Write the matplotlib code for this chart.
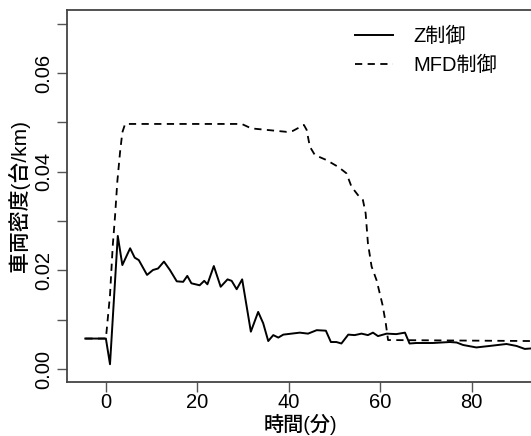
import matplotlib
matplotlib.use("Agg")
import matplotlib.pyplot as plt

plt.rcParams['font.family'] = ['Liberation Sans', 'Noto Sans CJK JP']

# Z制御 の車両密度
z_time = [-4.5, 0.0, 0.9, 2.6, 3.6, 5.3, 6.3, 7.2, 7.8, 9.0, 10.3, 11.4, 12.7,
          14.0, 15.5, 16.9, 17.8, 18.7, 20.5, 21.5, 22.2, 23.6, 25.1, 26.6,
          27.5, 28.6, 29.8, 31.7, 33.3, 34.4, 35.5, 36.6, 37.7, 38.8, 42.4,
          44.2, 46.1, 48.1, 49.2, 50.4, 51.5, 53.0, 54.4, 55.9, 57.3, 58.4,
          59.5, 61.4, 63.5, 65.4, 66.4, 67.9, 71.5, 75.2, 76.7, 78.1, 81.0,
          83.9, 87.6, 89.8, 91.6, 93.0]
z_density = [0.0062, 0.0062, 0.0010, 0.0270, 0.0211, 0.0245, 0.0226, 0.0221,
             0.0211, 0.0191, 0.0201, 0.0204, 0.0218, 0.0201, 0.0178, 0.0177,
             0.0189, 0.0174, 0.0170, 0.0179, 0.0172, 0.0209, 0.0167, 0.0182,
             0.0179, 0.0162, 0.0182, 0.0076, 0.0116, 0.0093, 0.0057, 0.0069,
             0.0064, 0.0070, 0.0074, 0.0072, 0.0079, 0.0078, 0.0055, 0.0055,
             0.0052, 0.0070, 0.0069, 0.0072, 0.0069, 0.0074, 0.0067, 0.0072,
             0.0071, 0.0074, 0.0052, 0.0053, 0.0053, 0.0055, 0.0054, 0.0049,
             0.0044, 0.0047, 0.0051, 0.0047, 0.0041, 0.0042]

# MFD制御 の車両密度
mfd_time = [-4.5, 0.0, 0.9, 1.5, 2.0, 2.5, 3.1, 3.6, 4.2, 29.7, 31.8, 39.5,
            40.9, 43.3, 43.9, 44.6, 45.7, 48.2, 50.8, 52.6, 53.7, 55.1, 56.2,
            56.8, 57.3, 58.1, 59.2, 60.5, 61.2, 61.7, 93.0]
mfd_density = [0.0062, 0.0062, 0.0150, 0.0250, 0.0310, 0.0380, 0.0440,
               0.0480, 0.0497, 0.0497, 0.0488, 0.0481, 0.0483, 0.0495,
               0.0485, 0.0451, 0.0434, 0.0424, 0.0410, 0.0397, 0.0370,
               0.0353, 0.0343, 0.0316, 0.0255, 0.0208, 0.0180, 0.0130,
               0.0093, 0.0059, 0.0057]

x_ticks = [0, 20, 40, 60, 80]
y_ticks = [0.00, 0.01, 0.02, 0.03, 0.04, 0.05, 0.06, 0.07]
y_labels = ['0.00', '', '0.02', '', '0.04', '', '0.06', '']

fig = plt.figure(figsize=(5.31, 4.36), dpi=100)
ax = fig.add_axes([0.1262, 0.1239, 0.8776, 0.8532])

ax.plot(z_time, z_density, color='black', lw=1.4, label='Z制御')
ax.plot(mfd_time, mfd_density, color='black', lw=1.3, dashes=(4, 3),
        label='MFD制御')

ax.set_xlim(-8.5, 93.4)
ax.set_ylim(-0.0026, 0.0728)
ax.set_xticks(x_ticks)
ax.set_xticklabels([str(t) for t in x_ticks])
ax.set_yticks(y_ticks)
ax.set_yticklabels(y_labels, rotation=90, va='center')

for s in ax.spines.values():
    s.set_color('#444444')
    s.set_linewidth(1.3)
ax.tick_params(direction='out', length=7, width=1.0, color='#555555',
               labelsize=14.5)
ax.tick_params(axis='x', pad=1)
ax.tick_params(axis='y', pad=3)

ax.set_xlabel('時間(分)', fontsize=14.5, fontweight='medium', labelpad=1)
ax.set_ylabel('車両密度(台/km)', fontsize=15, fontweight='medium', labelpad=3)

ax.legend(loc='upper left', bbox_to_anchor=(0.618, 0.955), frameon=False,
          borderpad=0, borderaxespad=0, fontsize=14.5, handlelength=1.9,
          handletextpad=1.0, labelspacing=0.5)

fig.savefig('out.png', dpi=100)
